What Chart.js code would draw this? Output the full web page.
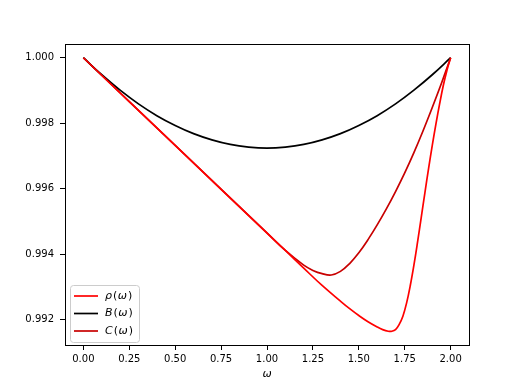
<!DOCTYPE html>
<html>
<head>
<meta charset="utf-8">
<script src="https://cdn.jsdelivr.net/npm/chart.js@4/dist/chart.umd.min.js"></script>
<style>
  html, body { margin: 0; padding: 0; background: #fff; }
  #chart { display: block; }
</style>
</head>
<body>
<canvas id="chart" width="521" height="390"></canvas>
<script>
// values
const omegaB = [0, 0.1, 0.2, 0.3, 0.4, 0.5, 0.6, 0.7, 0.8, 0.9, 1.0,
                1.1, 1.2, 1.3, 1.4, 1.5, 1.6, 1.7, 1.8, 1.9, 2.0];
const valuesB = [1.0, 0.99948, 0.99901, 0.99859, 0.99823, 0.99793, 0.99768, 0.99749, 0.99735, 0.99727, 0.99724,
                 0.99727, 0.99735, 0.99749, 0.99768, 0.99793, 0.99823, 0.99859, 0.99901, 0.99948, 1.0];

const omegaRho = [0, 0.5, 1.0, 1.1, 1.2, 1.3, 1.4, 1.45, 1.5, 1.55, 1.6, 1.63, 1.66, 1.68, 1.7, 1.72,
                  1.74, 1.76, 1.78, 1.8, 1.82, 1.84, 1.86, 1.88, 1.9, 1.92, 1.94, 1.96, 1.98, 2.0];
const valuesRho = [1.0, 0.99732, 0.99464, 0.99411, 0.99357, 0.99304, 0.99256, 0.99233, 0.99212, 0.99193,
                   0.99177, 0.99169, 0.99164, 0.99164, 0.99169, 0.99185, 0.99210, 0.99250, 0.99303,
                   0.99366, 0.99437, 0.99512, 0.99588, 0.99662, 0.99732, 0.99798, 0.99859, 0.99915,
                   0.99962, 1.0];

const omegaC = [0, 0.5, 1.0, 1.1, 1.2, 1.25, 1.3, 1.35, 1.4, 1.45, 1.5, 1.55, 1.6, 1.65, 1.7, 1.75,
                1.8, 1.85, 1.9, 1.95, 2.0];
const valuesC = [1.0, 0.99732, 0.99465, 0.99411, 0.99366, 0.99350, 0.99340, 0.99336, 0.99347, 0.99371,
                 0.99404, 0.99444, 0.99489, 0.99538, 0.99591, 0.99648, 0.99710, 0.99777, 0.99848,
                 0.99922, 1.0];

const xTicks = [0, 0.25, 0.5, 0.75, 1.0, 1.25, 1.5, 1.75, 2.0];
const yTicks = [0.992, 0.994, 0.996, 0.998, 1.0];

const labels = ["ρ(ω)", "B(ω)", "C(ω)"];
const colors = ["#ff0000", "#000000", "#c80000"];

function toPoints(xs, ys) {
  return xs.map((x, i) => ({ x: x, y: ys[i] }));
}

const FONT = "'DejaVu Sans', sans-serif";

// frame around the plot + matplotlib style legend in the lower left
const framePlugin = {
  id: "frame",
  afterDraw(chart) {
    const ctx = chart.ctx;
    const a = chart.chartArea;
    ctx.save();
    ctx.strokeStyle = "#000";
    ctx.lineWidth = 1;
    ctx.strokeRect(Math.round(a.left) + 0.5, Math.round(a.top) + 0.5,
                   Math.round(a.right - a.left), Math.round(a.bottom - a.top));

    // legend box
    const bx = a.left + 5, by = a.bottom - 60, bw = 69, bh = 57;
    ctx.beginPath();
    ctx.roundRect(bx + 0.5, by + 0.5, bw, bh, 3);
    ctx.fillStyle = "rgba(255,255,255,0.8)";
    ctx.fill();
    ctx.strokeStyle = "#cccccc";
    ctx.stroke();

    chart.data.datasets.forEach((ds, i) => {
      const y = by + 11 + i * 17.5;
      ctx.beginPath();
      ctx.moveTo(bx + 4, y);
      ctx.lineTo(bx + 28, y);
      ctx.strokeStyle = ds.borderColor;
      ctx.lineWidth = 1.7;
      ctx.stroke();

      // label: italic symbol, roman parens, italic omega
      const sym = ds.label.charAt(0);
      const parts = [[sym, true], ["(", false], ["ω", true], [")", false]];
      let x = bx + 35;
      ctx.fillStyle = "#000";
      ctx.textBaseline = "middle";
      ctx.textAlign = "left";
      parts.forEach(([t, it]) => {
        ctx.font = (it ? "italic " : "") + "11px " + FONT;
        ctx.fillText(t, x, y);
        x += ctx.measureText(t).width + (it ? 1 : 0.5);
      });
    });
    ctx.restore();
  }
};

new Chart(document.getElementById("chart"), {
  type: "line",
  data: {
    datasets: [
      { label: labels[0], data: toPoints(omegaRho, valuesRho), borderColor: colors[0] },
      { label: labels[1], data: toPoints(omegaB, valuesB), borderColor: colors[1] },
      { label: labels[2], data: toPoints(omegaC, valuesC), borderColor: colors[2] }
    ].map(d => Object.assign(d, {
      borderWidth: 1.7,
      pointRadius: 0,
      fill: false,
      tension: 0.4
    }))
  },
  options: {
    responsive: false,
    animation: false,
    layout: { padding: { top: 44, right: 52, left: 0, bottom: 0 } },
    plugins: {
      legend: { display: false },
      tooltip: { enabled: false }
    },
    scales: {
      x: {
        type: "linear",
        min: -0.1,
        max: 2.1,
        afterFit(scale) { scale.height = 45; },
        afterBuildTicks(scale) { scale.ticks = xTicks.map(v => ({ value: v })); },
        grid: { drawOnChartArea: false, drawTicks: true, tickLength: 5, color: "#000" },
        border: { display: false },
        ticks: {
          color: "#000",
          padding: 3,
          maxRotation: 0,
          autoSkip: false,
          font: { family: FONT, size: 10 },
          callback: v => v.toFixed(2)
        },
        title: {
          display: true,
          text: "ω",
          color: "#000",
          padding: { top: 0, bottom: 9 },
          font: { family: FONT, size: 11, style: "italic" }
        }
      },
      y: {
        type: "linear",
        min: 0.99122,
        max: 1.00042,
        afterFit(scale) { scale.width = 65; },
        afterBuildTicks(scale) { scale.ticks = yTicks.map(v => ({ value: v })); },
        grid: { drawOnChartArea: false, drawTicks: true, tickLength: 5, color: "#000" },
        border: { display: false },
        ticks: {
          color: "#000",
          padding: 6,
          autoSkip: false,
          font: { family: FONT, size: 10 },
          callback: v => v.toFixed(3)
        }
      }
    }
  },
  plugins: [framePlugin]
});
</script>
</body>
</html>
